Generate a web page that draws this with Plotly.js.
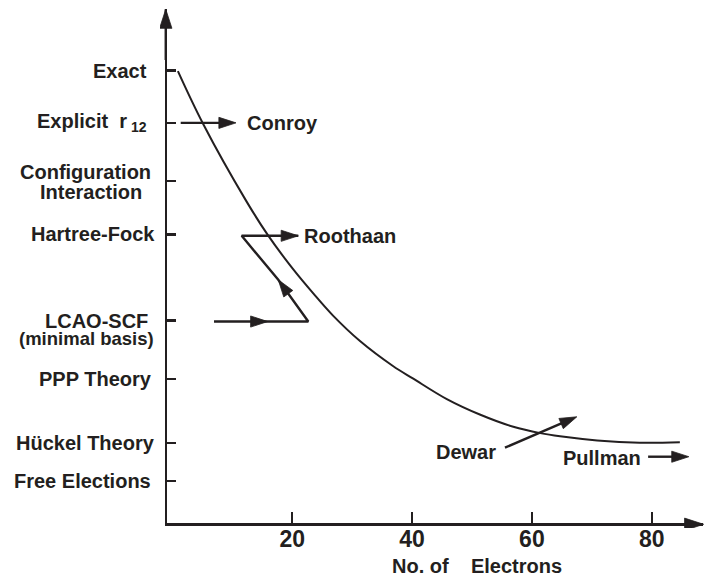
<!DOCTYPE html>
<html>
<head>
<meta charset="utf-8">
<script src="https://cdn.plot.ly/plotly-3.0.1.min.js"></script>
<style>html,body{margin:0;padding:0;background:#fff;}</style>
</head>
<body>
<div id="chart" style="width:704px;height:578px;"></div>
<script>
// ---- data ----
const levelLabels = ["Exact", "Explicit\u00a0 r\u2009<sub>12</sub>", "Configuration<br>Interaction", "Hartree-Fock",
                     "LCAO-SCF<br>(minimal basis)", "PPP Theory", "Hückel Theory", "Free Elections"];
const levelValues = [100, 88.5, 75.7, 63.9, 44.9, 32.0, 17.9, 9.5];
const xTickValues = [20, 40, 60, 80];

const curveElectrons = [0.9, 5.1, 12.3, 15.9, 20.1, 23.5, 26.8, 31.3, 36.8, 40.2, 45.8, 51.3, 56.9, 61.4, 64.7, 70.9, 78.0, 84.7];
const curveLevel     = [99.9, 88.3, 71.3, 63.8, 56.3, 50.9, 46.0, 40.4, 34.9, 32.1, 27.6, 24.2, 21.5, 20.1, 19.4, 18.5, 18.0, 18.1];

const conroyX = [1.37, 10.6],  conroyY = [88.5, 88.5];
const roothaanX = [6.93, 15.9, 22.67, 17.66, 11.55, 21.0];
const roothaanY = [44.7, 44.7, 44.7, 53.9, 63.6, 63.6];
const dewarX = [55.5, 67.5],   dewarY = [16.9, 23.7];
const pullmanX = [79.4, 86.2], pullmanY = [14.9, 14.9];

const names = [
  {text: "Conroy",   x: 12.1, y: 88.5, anchor: "left"},
  {text: "Roothaan", x: 21.6, y: 63.6, anchor: "left"},
  {text: "Dewar",    x: 54.4, y: 15.9, anchor: "right"},
  {text: "Pullman",  x: 64.8, y: 14.6, anchor: "left"}
];
const xTitle = "No. of\u00a0\u00a0\u00a0 Electrons";

// ---- styles ----
const INK = "#231f20";
const FONT = "Liberation Sans, Arial, Helvetica, sans-serif";
const labelRight = [[147], [147], [150.7, 141.7], [155], [148, 154], [152], [155], [150.7]];
const labelDy    = [[0], [0], [-9, 11], [0], [0, 18], [0], [0], [0]];
const labelSize  = [[20], [20], [20, 20], [20], [20, 18.5], [20], [20], [20]];
const AXIS_PX = 167;
const HEAD = 18;

// pixel geometry: outer area 160..704 x 9..528; inner plot 167..703 x 9..523
const PX_PER_X = 5.99, X0_PX = 172.5;   // x = 0 at pixel 172.5
const PX_PER_Y = 4.536, Y0_PX = 524.3;  // y = 0 at pixel 524.3
const toX = px => (px - X0_PX) / PX_PER_X;
const toY = py => (Y0_PX - py) / PX_PER_Y;

const traces = [];
traces.push({x: curveElectrons, y: curveLevel, mode: "lines",
  line: {color: INK, width: 2, shape: "spline", smoothing: 1}, hoverinfo: "skip"});

function arrowTrace(xs, ys, sizes, xa, ya) {
  return {x: xs, y: ys, mode: "lines+markers", xaxis: xa || "x", yaxis: ya || "y",
    line: {color: INK, width: 2.4},
    marker: {symbol: "arrow", size: sizes, color: INK, opacity: 1, angleref: "previous",
             line: {width: 0.8, color: INK}},
    hoverinfo: "skip"};
}
traces.push(arrowTrace(conroyX, conroyY, [0, HEAD]));
traces.push(arrowTrace(roothaanX, roothaanY, [0, HEAD, 0, HEAD, 0, HEAD]));
traces.push(arrowTrace(dewarX, dewarY, [0, HEAD]));
traces.push(arrowTrace(pullmanX, pullmanY, [0, HEAD]));
// axis arrow heads, on a helper subplot that also covers the axis lines
traces.push(arrowTrace([toX(165.75), toX(165.75)], [toY(60), toY(9.3)], [0, 20], "x2", "y2"));
traces.push(arrowTrace([toX(600), toX(703.6)], [toY(524.3), toY(524.3)], [0, 20], "x2", "y2"));

const annotations = [];
levelLabels.forEach((lab, i) => {
  lab.split("<br>").forEach((line, j) => {
    annotations.push({
      xref: "paper", yref: "y", x: 0, y: levelValues[i],
      xanchor: "right", yanchor: "middle",
      xshift: labelRight[i][j] + 2 - 160, yshift: -labelDy[i][j],
      text: line, showarrow: false,
      font: {family: FONT, size: labelSize[i][j], weight: "bold", color: INK}
    });
  });
});
names.forEach(n => annotations.push({
  xref: "x", yref: "y", x: n.x, y: n.y, xanchor: n.anchor, yanchor: "middle",
  text: n.text, showarrow: false, font: {family: FONT, size: 20, weight: "bold", color: INK}
}));
annotations.push({xref: "x", yref: "paper", x: 50.8, y: 0, yshift: -38, xanchor: "center", yanchor: "middle",
  text: xTitle, showarrow: false, font: {family: FONT, size: 20, weight: "bold", color: INK}});

const W = 544, H = 519;
const layout = {
  width: 704, height: 578,
  margin: {l: 160, r: 0, t: 9, b: 50},
  paper_bgcolor: "#fff", plot_bgcolor: "rgba(0,0,0,0)",
  showlegend: false,
  font: {family: FONT, color: INK},
  xaxis: {domain: [(AXIS_PX - 160) / W, (703 - 160) / W], anchor: "y",
    range: [toX(AXIS_PX), toX(703)], showgrid: false, zeroline: false, showline: true,
    linecolor: INK, linewidth: 2.5, ticks: "inside", ticklen: 11, tickwidth: 2.2, tickcolor: INK,
    tickmode: "array", tickvals: xTickValues, ticktext: xTickValues.map(String),
    ticklabelstandoff: -6,
    tickfont: {family: FONT, size: 23, weight: "bold", color: INK}},
  yaxis: {domain: [5 / H, 1], anchor: "x",
    range: [toY(523), toY(9)], showgrid: false, zeroline: false, showline: true,
    linecolor: INK, linewidth: 2.5, ticks: "inside", ticklen: 9, tickwidth: 2.5, tickcolor: INK,
    tickmode: "array", tickvals: levelValues, showticklabels: false},
  xaxis2: {domain: [0, 1], anchor: "y2", range: [toX(160), toX(704)], visible: false, fixedrange: true},
  yaxis2: {domain: [0, 1], anchor: "x2", range: [toY(528), toY(9)], visible: false, fixedrange: true},
  annotations: annotations
};

Plotly.newPlot("chart", traces, layout, {staticPlot: true, displayModeBar: false});
</script>
</body>
</html>
